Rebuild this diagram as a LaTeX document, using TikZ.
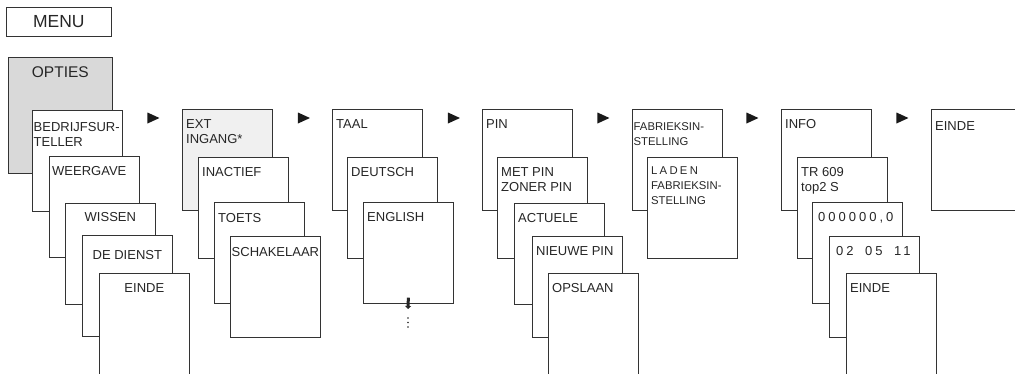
\documentclass[tikz,border=0pt]{standalone}
\usepackage{fontspec}
\setmainfont{Liberation Sans}
\usetikzlibrary{shapes.geometric, arrows.meta, positioning, calc}

\begin{document}
\begin{tikzpicture}[
    x=1pt, y=-1pt,
    card/.style={draw=black!80, fill=white, line width=0.7pt, rectangle,
                anchor=north west, inner sep=0pt,
                minimum width=90pt, minimum height=101pt},
    tag/.style={font=\fontsize{13}{15}\selectfont, text=black!85, align=left,
                inner sep=0pt, anchor=north west, xshift=4pt, yshift=-10pt},
    midtag/.style={font=\fontsize{13}{15}\selectfont, text=black!85,
                inner sep=0pt, anchor=north, yshift=-10pt},
    slimtag/.style={tag, font=\fontsize{11.3}{15}\selectfont},
    spaced/.style={tag, font=\fontsize{13}{15}\selectfont\addfontfeature{LetterSpace=23}},
    nextmark/.style={isosceles triangle, fill=black!90, inner sep=0pt,
                isosceles triangle stretches, minimum width=11pt, minimum height=12pt},
    more/.style={line width=3pt, draw=black!85, -{Triangle[length=3pt, width=6pt]}}
]
\useasboundingbox (0,0) rectangle (1015,373);
\clip (0,0) rectangle (1015,373);

%% ---- HEADER ----
\node [draw=black!80, line width=0.7pt, anchor=north west, minimum width=105pt,
       minimum height=29pt, font=\fontsize{17.5}{20}\selectfont, text=black!85]
      (menu) at (6,7) {MENU};
\node [card, fill=black!15, minimum width=104pt, minimum height=116pt,
       label={[midtag, font=\fontsize{15.5}{18}\selectfont, yshift=1pt]north:{OPTIES}}]
      (opties) at (8,57) {};

%% ---- COLUMN 1: Bedrijfsurenteller ----
\node [card, label={[tag, yshift=-2pt, xshift=-2.5pt]north west:{BEDRIJFSUR-\\TELLER}}] (bedrijf) at (32,110) {};
\node [card, label={[tag, xshift=-1pt]north west:{WEERGAVE}}] (weergave) at (49,156) {};
\node [card, label={[midtag, yshift=1pt]north:{WISSEN}}]     (wissen)   at (65,203) {};
\node [card, label={[midtag, yshift=-5pt]north:{DE DIENST}}] (dienst)   at (82,235) {};
\node [card, minimum height=110pt, label={[midtag]north:{EINDE}}] (einde1) at (99,273) {};

%% ---- COLUMN 2: Ext ingang ----
\node [card, fill=black!6, label={[tag]north west:{EXT\\INGANG*}}] (ext) at (182,109) {};
\node [card, label={[tag]north west:{INACTIEF}}]     (inactief) at (198,157) {};
\node [card, label={[tag, yshift=-1pt]north west:{TOETS}}]      (toets)    at (214,202) {};
\node [card, label={[tag, yshift=-1pt, xshift=-2.5pt]north west:{SCHAKELAAR}}] (schakel) at (230,236) {};

%% ---- COLUMN 3: Taal ----
\node [card, label={[tag]north west:{TAAL}}]    (taal)    at (332,109) {};
\node [card, label={[tag]north west:{DEUTSCH}}] (deutsch) at (347,157) {};
\node [card, label={[tag]north west:{ENGLISH}}] (english) at (363,202) {};
\coordinate (later) at (408,309);
\draw [more] ([yshift=6pt]english.south) -- (later);
\foreach \y in {318,322.5,327}
  \fill [black!85] (408,\y) circle (0.9pt);

%% ---- COLUMN 4: Pin ----
\node [card, label={[tag]north west:{PIN}}]                  (pin)     at (482,109) {};
\node [card, label={[tag]north west:{MET PIN\\ZONER PIN}}]   (metpin)  at (497,157) {};
\node [card, label={[tag]north west:{ACTUELE}}]              (actuele) at (514,203) {};
\node [card, label={[tag]north west:{NIEUWE PIN}}]           (nieuwe)  at (532,236) {};
\node [card, minimum height=110pt, label={[tag]north west:{OPSLAAN}}] (opslaan) at (548,273) {};

%% ---- COLUMN 5: Fabrieksinstelling ----
\node [card, label={[slimtag, xshift=-2.5pt, yshift=-3pt]north west:{FABRIEKSIN-\\STELLING}}] (fabriek) at (632,109) {};
\node [card, label={[slimtag]north west:{{\addfontfeature{LetterSpace=20}LADEN}\\FABRIEKSIN-\\STELLING}}] (laden) at (647,157) {};

%% ---- COLUMN 6: Info ----
\node [card, label={[tag]north west:{INFO}}]            (info)   at (781,109) {};
\node [card, label={[tag]north west:{TR 609\\top2 S}}]  (tr)     at (797,157) {};
\node [card, label={[spaced, xshift=2pt]north west:{000000,0}}] (zeros) at (812,202) {};
\node [card, label={[spaced, xshift=3pt]north west:{02\hspace{11.5pt}05\hspace{11.5pt}11}}] (datum) at (829,236) {};
\node [card, minimum height=110pt, label={[tag]north west:{EINDE}}] (einde2) at (846,273) {};

%% ---- COLUMN 7: Einde ----
\node [card, label={[tag, yshift=-2pt]north west:{EINDE}}] (einde3) at (931,109) {};

%% ---- NEXT MARKS between the columns ----
\node [nextmark] (go1) at (151,118) {};
\node [nextmark] (go2) at (301.5,118) {};
\node [nextmark] (go3) at (451.5,118) {};
\node [nextmark] (go4) at (601,118) {};
\node [nextmark] (go5) at (750,118) {};
\node [nextmark] (go6) at (900,118) {};

\end{tikzpicture}
\end{document}
